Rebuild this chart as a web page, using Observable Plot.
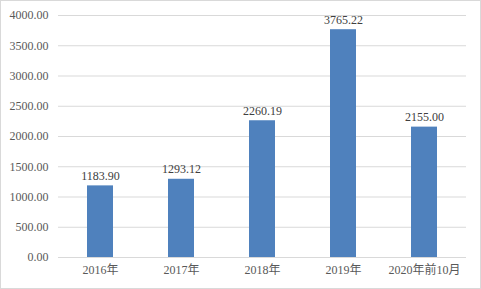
<!DOCTYPE html>
<html>
<head>
<meta charset="utf-8">
<script src="https://cdn.jsdelivr.net/npm/d3@7"></script>
<script src="https://cdn.jsdelivr.net/npm/@observablehq/plot@0.6"></script>
<style>
  html, body { margin: 0; padding: 0; background: white; }
</style>
</head>
<body>
<div id="chart"></div>
<script>
const years = ["2016年", "2017年", "2018年", "2019年", "2020年前10月"];
const values = [1183.90, 1293.12, 2260.19, 3765.22, 2155.00];
const yTicks = [0, 500, 1000, 1500, 2000, 2500, 3000, 3500, 4000];

const data = years.map((year, i) => ({ year, value: values[i] }));

const chart = Plot.plot({
  width: 481,
  height: 289,
  marginLeft: 58,
  marginRight: 15,
  marginTop: 15,
  marginBottom: 32,
  x: { domain: years, paddingInner: 0.68, paddingOuter: 0.34, label: null, tickSize: 0, tickPadding: 8 },
  y: { domain: [0, 4000], ticks: yTicks, tickFormat: d => d.toFixed(2), label: null, tickSize: 0, tickPadding: 10 },
  style: {
    fontFamily: "'Liberation Serif', 'Noto Sans CJK SC', serif",
    fontSize: "12px",
    color: "#595959",
    background: "white",
    outline: "1px solid #d9d9d9",
    outlineOffset: "-1px"
  },
  marks: [
    Plot.ruleY(yTicks, { stroke: "#d9d9d9", strokeWidth: 1 }),
    Plot.barY(data, { x: "year", y: "value", fill: "#4f81bd" }),
    Plot.text(data, {
      x: "year",
      y: "value",
      text: d => d.value.toFixed(2),
      dy: -6,
      lineAnchor: "bottom",
      fill: "#404040",
      fontSize: 12
    })
  ]
});
document.getElementById("chart").appendChild(chart);
</script>
</body>
</html>
